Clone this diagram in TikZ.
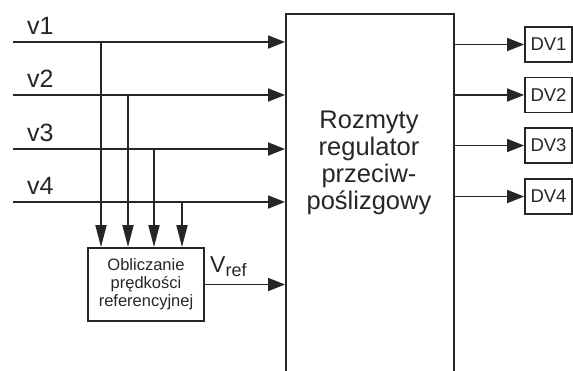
\documentclass[tikz,border=0pt]{standalone}
\usepackage{fontspec}
\setmainfont{Liberation Sans}
\usetikzlibrary{arrows.meta}
\definecolor{ink}{gray}{0.15}
\begin{document}
\begin{tikzpicture}[x=1pt,y=-1pt,
  line/.style={line width=1.8pt, draw=ink},
  arr/.style={line, -{Triangle[length=17pt,width=13pt]}},
  darr/.style={line, -{Triangle[length=22pt,width=11pt]}},
  box/.style={draw=ink, line width=1.8pt, rectangle, inner sep=0pt, text=ink},
  lbl/.style={font=\fontsize{25}{27}\selectfont, text=ink, inner sep=0pt},
]
\useasboundingbox (0,0) rectangle (573,370);
\begin{scope}
  \clip (0,0) rectangle (573,370);
  \node[box, minimum width=168pt, minimum height=400pt, anchor=north west] (reg) at (285,13) {};
\end{scope}
\node[text=ink, align=center, inner sep=0pt, font=\fontsize{25.5}{27}\selectfont] (regtxt) at (369,163)
  {Rozmyty\\regulator\\przeciw-\\poślizgowy};
\node[box, minimum width=116pt, minimum height=73pt, align=center,
      font=\fontsize{16.5}{18}\selectfont] (calc) at (146,284.5)
  {Obliczanie\\prędkości\\referencyjnej};
\foreach \i/\y/\x in {1/42/101,2/95/128,3/149/154,4/202/182} {
  \coordinate (in\i) at (13,\y);
  \draw[arr] (in\i) -- (in\i -| reg.west);
  \node[lbl, anchor=base west] (vl\i) at (27,\y-8) {v\i};
  \coordinate (t\i) at (\x,\y);
  \draw[darr] (t\i) -- (t\i |- calc.north);
}
\draw[arr] (calc.east) -- (calc.east -| reg.west);
\node[anchor=base west, inner sep=0pt, text=ink] (vref) at (210,272)
  {{\fontsize{23}{25}\selectfont V}{\fontsize{18}{20}\selectfont\raisebox{-4pt}{ref}}};
\foreach \i/\y in {1/44.5,2/95,3/145.5,4/196.5} {
  \node[box, minimum width=47pt, minimum height=35pt, font=\fontsize{18.5}{20}\selectfont] (dv\i) at (548.5,\y) {DV\i};
  \draw[arr] (dv\i.west -| reg.east) -- (dv\i.west);
}
\end{tikzpicture}
\end{document}
